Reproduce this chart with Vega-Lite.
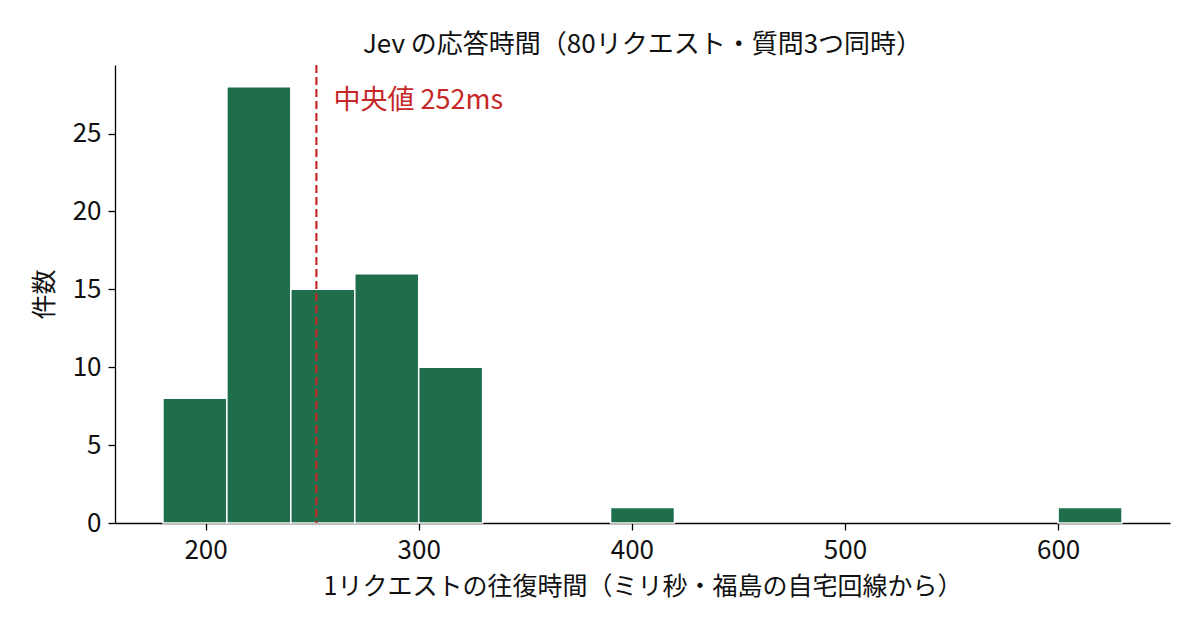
{
  "$schema": "https://vega.github.io/schema/vega-lite/v6.json",
  "width": 1055,
  "height": 458,
  "autosize": "none",
  "padding": {"left": 115, "top": 65, "right": 30, "bottom": 107},
  "background": "white",
  "config": {
    "font": "Noto Sans CJK JP",
    "view": {"stroke": null},
    "axis": {"grid": false, "domainColor": "#000000", "tickColor": "#000000", "labelColor": "#111111", "titleColor": "#111111", "labelFont": "Noto Sans CJK JP", "titleFont": "Noto Sans CJK JP", "labelFontSize": 26, "titleFontSize": 25, "titleFontWeight": "normal", "tickSize": 7, "domainWidth": 1.3, "tickWidth": 1.3}
  },
  "title": {"text": "Jev の応答時間（80リクエスト・質問3つ同時）", "fontSize": 26, "fontWeight": "normal", "font": "Noto Sans CJK JP", "color": "#111111", "offset": 6},
  "layer": [
    {
      "data": {"values": [
        {"start": 180, "end": 210, "count": 8},
        {"start": 210, "end": 240, "count": 28},
        {"start": 240, "end": 270, "count": 15},
        {"start": 270, "end": 300, "count": 16},
        {"start": 300, "end": 330, "count": 10},
        {"start": 390, "end": 420, "count": 1},
        {"start": 600, "end": 630, "count": 1}
      ]},
      "mark": {"type": "bar", "color": "#1e6e4b", "stroke": "white", "strokeWidth": 1.5},
      "encoding": {
        "x": {"field": "start", "type": "quantitative", "scale": {"domain": [157.5, 652.5], "nice": false, "zero": false}, "axis": {"values": [200, 300, 400, 500, 600], "title": "1リクエストの往復時間（ミリ秒・福島の自宅回線から）", "labelPadding": 7, "titlePadding": 11}},
        "x2": {"field": "end"},
        "y": {"field": "count", "type": "quantitative", "scale": {"domain": [0, 29.4], "nice": false}, "axis": {"values": [0, 5, 10, 15, 20, 25], "title": "件数", "labelPadding": 7, "titlePadding": 15}},
        "y2": {"datum": 0}
      }
    },
    {
      "data": {"values": [{"median": 252}]},
      "mark": {"type": "rule", "color": "#c62828", "strokeWidth": 2.2, "strokeDash": [8, 4]},
      "encoding": {"x": {"field": "median", "type": "quantitative"}}
    },
    {
      "data": {"values": [{"label": "中央値 252ms", "px": 260, "py": 27.1}]},
      "mark": {"type": "text", "color": "#c62828", "fontSize": 27, "align": "left", "baseline": "middle", "font": "Noto Sans CJK JP"},
      "encoding": {
        "x": {"field": "px", "type": "quantitative"},
        "y": {"field": "py", "type": "quantitative"},
        "text": {"field": "label"}
      }
    }
  ]
}
